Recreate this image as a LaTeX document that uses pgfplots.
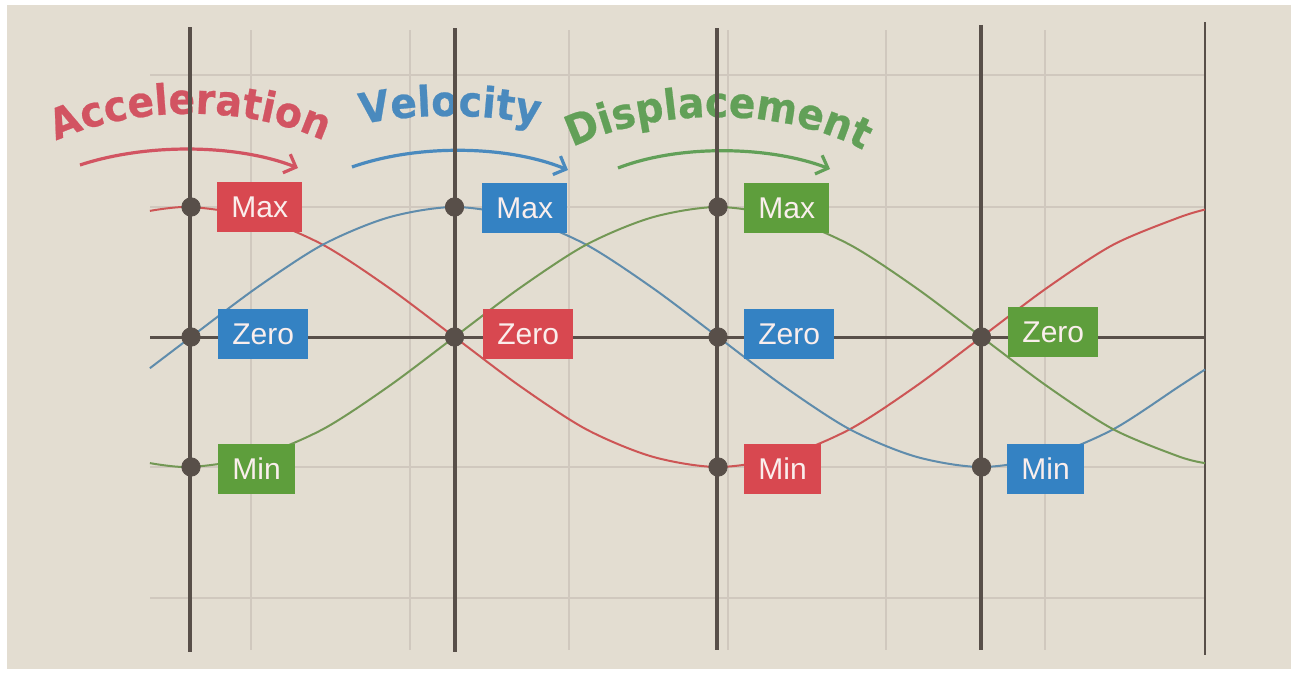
\documentclass[border=0pt]{standalone}
\usepackage{fontspec}
\setmainfont{Liberation Sans}
\newfontfamily\titlefont{DejaVu Sans}[FakeStretch=0.93,FakeBold=0.6]
\usepackage{pgfplots}
\pgfplotsset{compat=1.18}
\usetikzlibrary{arrows.meta,decorations.text}

\definecolor{paper}{RGB}{227,221,209}
\definecolor{gridlight}{RGB}{208,200,190}
\definecolor{darkline}{RGB}{88,79,73}
\definecolor{titlered}{RGB}{210,84,98}
\definecolor{titleblue}{RGB}{74,138,190}
\definecolor{titlegreen}{RGB}{98,160,88}
\definecolor{boxred}{RGB}{216,72,80}
\definecolor{boxblue}{RGB}{52,130,195}
\definecolor{boxgreen}{RGB}{94,158,60}
\definecolor{curvered}{RGB}{205,85,85}
\definecolor{curveblue}{RGB}{95,140,172}
\definecolor{curvegreen}{RGB}{115,152,85}
\definecolor{boxtext}{RGB}{250,238,236}

% picture position in pixels of the 1299x675 reference -> axis units
\newcommand{\px}[2]{(axis cs:{1+(#1-191)/263.5},{(337-#2)/130})}
\newcommand{\tfont}{\titlefont\bfseries\fontsize{21}{25}\selectfont}
\tikzset{box/.style={anchor=west,text=boxtext,inner xsep=7pt,minimum height=25pt,
    font=\fontsize{15}{18}\selectfont}}

\begin{document}
\begin{tikzpicture}
\begin{axis}[
  width=649.5pt,height=337.5pt,scale only axis,
  axis lines=none,ticks=none,clip=false,
  xmin=0.27514,xmax=5.2049,ymin=-2.6,ymax=2.5923]

 % paper
 \fill[white] (rel axis cs:0,0) rectangle (rel axis cs:1,1);
 \fill[paper] \px{7}{5} rectangle \px{1291}{669};

 % light grid
 \pgfplotsinvokeforeach{251,410,569,728,886,1045}{
   \draw[gridlight,line width=1pt] \px{#1}{30} -- \px{#1}{650};}
 \pgfplotsinvokeforeach{75,207,467,598}{
   \draw[gridlight,line width=1pt] \px{150}{#1} -- \px{1205}{#1};}

 % curved titles
 \path[decorate,decoration={text along path,text align=center,text color=titlered,
   text={|\tfont|Acceleration}}]
   \px{35}{152} .. controls \px{120}{101} and \px{260}{101} .. \px{345}{152};
 \path[decorate,decoration={text along path,text align=center,text color=titleblue,
   text={|\tfont|Velocity}}]
   \px{350}{127} .. controls \px{410}{112} and \px{490}{112} .. \px{550}{128};
 \path[decorate,decoration={text along path,text align=center,text color=titlegreen,
   text={|\tfont|Displacement}}]
   \px{550}{160} .. controls \px{640}{102} and \px{800}{102} .. \px{885}{164};

 % arrows
 \draw[titlered,line width=1.6pt,-{Straight Barb[length=5pt,width=10pt]}]
   \px{80}{165} .. controls \px{150}{142} and \px{240}{145} .. \px{298}{168};
 \draw[titleblue,line width=1.6pt,-{Straight Barb[length=5pt,width=10pt]}]
   \px{352}{167} .. controls \px{420}{143} and \px{510}{146} .. \px{568}{170};
 \draw[titlegreen,line width=1.6pt,-{Straight Barb[length=5pt,width=10pt]}]
   \px{618}{168} .. controls \px{680}{144} and \px{770}{146} .. \px{830}{169};

 % dark frame lines
 \draw[darkline,line width=1.5pt] \px{150}{337} -- \px{1205}{337};
 \draw[darkline,line width=2pt] \px{190}{27} -- \px{190}{652};
 \draw[darkline,line width=2pt] \px{455}{28} -- \px{455}{652};
 \draw[darkline,line width=2pt] \px{717}{28} -- \px{717}{650};
 \draw[darkline,line width=2pt] \px{981}{25} -- \px{981}{650};
 \draw[darkline,line width=1.2pt] \px{1205}{22} -- \px{1205}{655};

 % acceleration
 \addplot[curvered,line width=1pt,smooth] coordinates {
  (0.844,0.97) (1,1) (1.25,0.92) (1.5,0.71) (1.75,0.38) (2,0)
  (2.25,-0.38) (2.5,-0.71) (2.75,-0.92) (3,-1) (3.25,-0.92) (3.5,-0.71)
  (3.75,-0.38) (4,0) (4.25,0.38) (4.5,0.71) (4.75,0.92) (4.848,0.98)};
 % velocity
 \addplot[curveblue,line width=1pt,smooth] coordinates {
  (0.844,-0.24) (1,0) (1.25,0.38) (1.5,0.71) (1.75,0.92) (2,1)
  (2.25,0.92) (2.5,0.71) (2.75,0.38) (3,0) (3.25,-0.38) (3.5,-0.71)
  (3.75,-0.92) (4,-1) (4.25,-0.92) (4.5,-0.71) (4.75,-0.38) (4.848,-0.25)};
 % displacement
 \addplot[curvegreen,line width=1pt,smooth] coordinates {
  (0.844,-0.97) (1,-1) (1.25,-0.92) (1.5,-0.71) (1.75,-0.38) (2,0)
  (2.25,0.38) (2.5,0.71) (2.75,0.92) (3,1) (3.25,0.92) (3.5,0.71)
  (3.75,0.38) (4,0) (4.25,-0.38) (4.5,-0.71) (4.75,-0.92) (4.848,-0.97)};

 % marked points
 \addplot[only marks,mark=*,mark size=4.6pt,darkline] coordinates {
  (1,1) (1,0) (1,-1) (2,1) (2,0) (3,1) (3,0) (3,-1) (4,0) (4,-1)};

 % labels
 \node[box,fill=boxred]   at \px{217}{207} {Max};
 \node[box,fill=boxblue]  at \px{218}{334} {Zero};
 \node[box,fill=boxgreen] at \px{218}{469} {Min};
 \node[box,fill=boxblue]  at \px{482}{208} {Max};
 \node[box,fill=boxred]   at \px{483}{334} {Zero};
 \node[box,fill=boxgreen] at \px{744}{208} {Max};
 \node[box,fill=boxblue]  at \px{744}{334} {Zero};
 \node[box,fill=boxred]   at \px{744}{469} {Min};
 \node[box,fill=boxgreen] at \px{1008}{332} {Zero};
 \node[box,fill=boxblue]  at \px{1007}{469} {Min};
\end{axis}
\end{tikzpicture}
\end{document}
